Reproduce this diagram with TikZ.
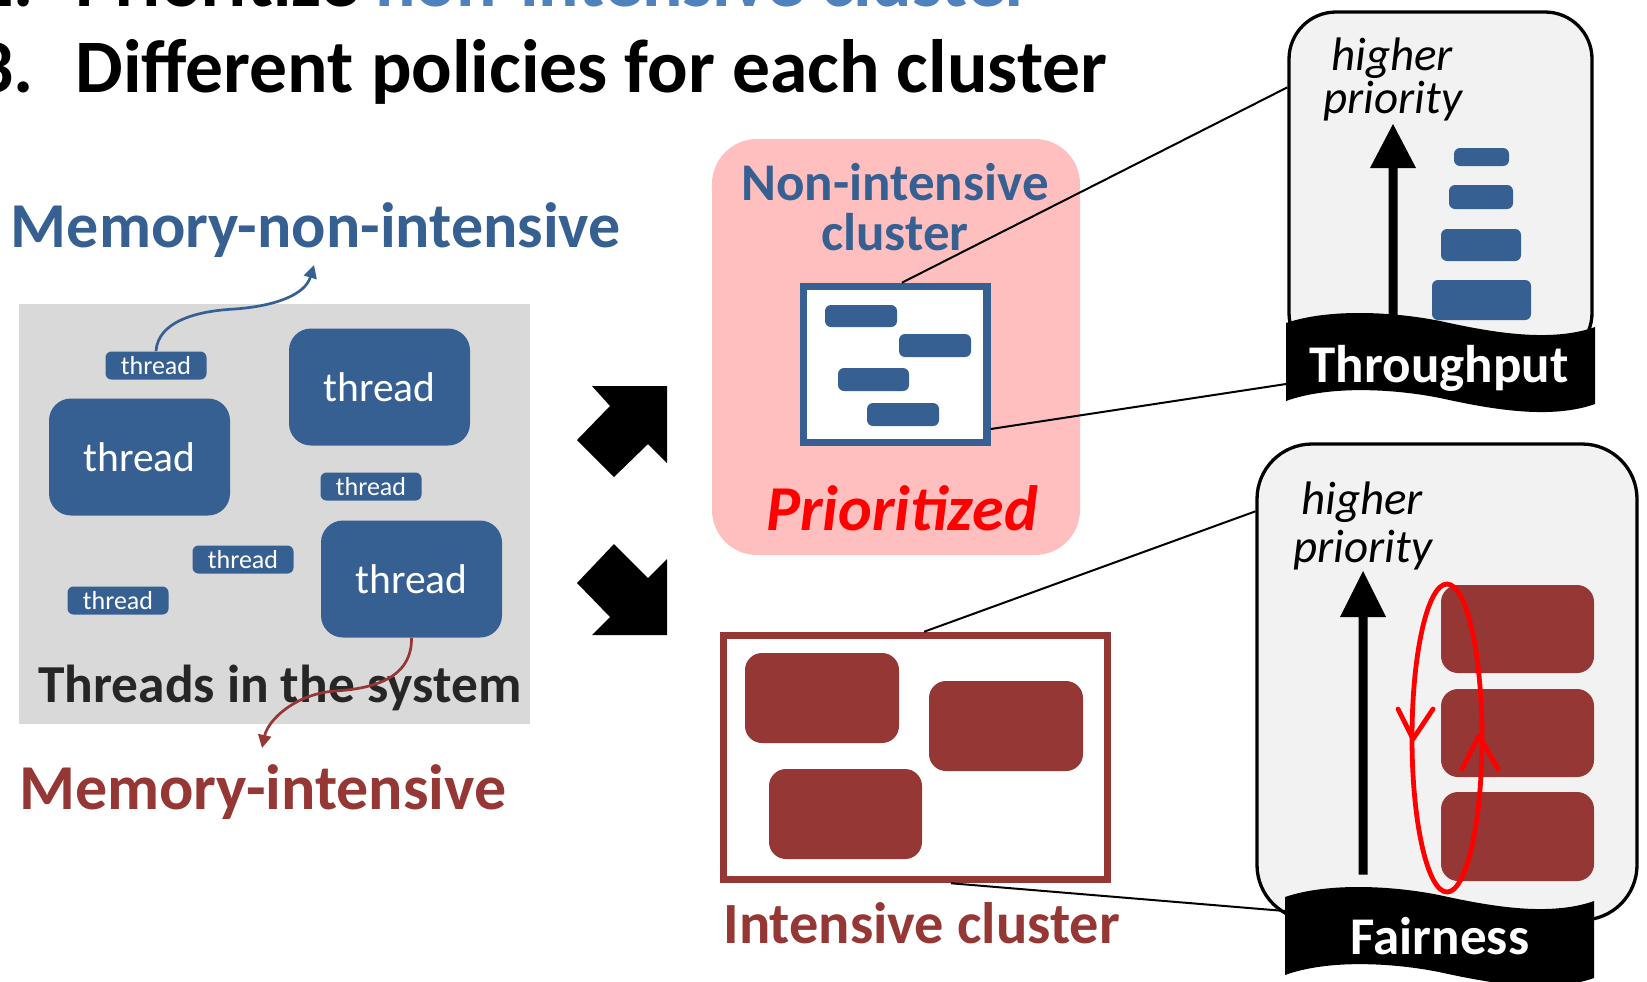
\documentclass[tikz,border=0pt]{standalone}
\usepackage{fontspec}
\setmainfont{Carlito}
\usetikzlibrary{arrows.meta,calc}
\definecolor{tblue}{RGB}{55,96,146}
\definecolor{lblue}{RGB}{79,129,189}
\definecolor{brick}{RGB}{149,55,53}
\definecolor{pinkbg}{RGB}{255,191,191}
\definecolor{graybg}{RGB}{217,217,217}
\definecolor{panelbg}{RGB}{242,242,242}
\definecolor{dgray}{RGB}{38,38,38}
\newcommand{\fsz}[1]{\fontsize{#1}{#1}\selectfont}
\begin{document}
\begin{tikzpicture}[x=0.5pt,y=-0.5pt,
  smallthread/.style={fill=tblue, rounded corners=3pt, minimum width=50.5pt, minimum height=14pt, inner sep=0pt, text=white, font=\fsz{13}},
  bigthread/.style={fill=tblue, rounded corners=11pt, minimum width=90.5pt, minimum height=58.5pt, inner sep=0pt, text=white, font=\fsz{20.8}},
  txt/.style={inner sep=0pt, anchor=base},
  txtw/.style={inner sep=0pt, anchor=base west},
  conn/.style={black, line width=1pt},
  panel/.style={draw=black, line width=1.65pt, fill=panelbg, inner sep=0pt},
  bluebar/.style={fill=tblue, rounded corners=3pt},
  redbar/.style={fill=brick, rounded corners=8.5pt},
  blockarrow/.style={fill=black},
  wavebanner/.pic={\fill[black] (0,0) .. controls (44,-15) and (109,-11) .. (154,-2) .. controls (204,9) and (264,20) .. (309,4) -- (309,81) .. controls (264,97) and (204,86) .. (154,75) .. controls (109,66) and (44,62) .. (0,78) -- cycle;}
]
\useasboundingbox (0,0) rectangle (1647,981);

% ---------- title lines ----------
\node[txtw] (title1) at (75,6) {\fsz{37.8}\bfseries\llap{2.\hspace{0.55em}}Prioritize \textcolor{lblue}{non-intensive cluster}};
\node[txtw] (title2) at (75,92) {\fsz{37.8}\bfseries\llap{3.\hspace{0.55em}}Different policies for each cluster};

% ---------- left: threads in the system ----------
\node[fill=graybg, minimum width=255.5pt, minimum height=210pt, inner sep=0pt] (sysbg) at (274.5,514) {};
\node[txtw, text=tblue, font=\fsz{32}\bfseries] (memnon) at (10.5,247) {Memory-non-intensive};
\node[txtw, text=brick, font=\fsz{32}\bfseries] (memint) at (19,809) {Memory-intensive};

\node[bigthread] (bt1) at (379.5,387) {thread};
\node[bigthread] (bt2) at (139.5,457) {thread};
\node[bigthread] (bt3) at (411.5,579) {thread};
\node[smallthread] (st1) at (156,365.5) {thread};
\node[smallthread] (st2) at (371,486.5) {thread};
\node[smallthread] (st3) at (243,559.5) {thread};
\node[smallthread] (st4) at (118,600.5) {thread};

\node[txtw, text=dgray, font=\fsz{26.7}\bfseries] (systxt) at (38,702) {Threads in the system};

\coordinate (memnontip) at (314,265);
\coordinate (meminttip) at (262,748);
\draw[tblue, line width=1.35pt, -{Triangle[length=6.5pt,width=6.5pt]}]
  (st1.north) .. controls (158,322) and (195,311) .. (235,309) .. controls (275,306) and (305,295) .. (memnontip);
\draw[brick, line width=1.35pt, -{Triangle[length=6.5pt,width=6.5pt]}]
  (bt3.south) .. controls (412,672) and (385,688) .. (335,691) .. controls (295,694) and (268,720) .. (meminttip);

% ---------- block arrows ----------
\fill[blockarrow] (592,386) -- (667,386) -- (667,463) -- (648,444) -- (614,477) -- (577,440) -- (610,406) -- cycle;
\fill[blockarrow] (614,544) -- (648,578) -- (667,559) -- (667,635) -- (592,635) -- (610,617) -- (577,583) -- cycle;

% ---------- non-intensive cluster ----------
\node[fill=pinkbg, rounded corners=22.5pt, minimum width=184pt, minimum height=208pt, inner sep=0pt] (nibg) at (896,347) {};
\node[txt, text=tblue, font=\fsz{26.5}\bfseries] (nic1) at (895,200) {Non-intensive};
\node[txt, text=tblue, font=\fsz{26.5}\bfseries] (nic2) at (895,250) {cluster};
\node[draw=tblue, line width=3.65pt, fill=white, minimum width=91.7pt, minimum height=78pt, inner sep=0pt] (nibox) at (895.35,364.35) {};
\fill[bluebar] (825,305) rectangle (897,327);
\fill[bluebar] (899,334) rectangle (971,357);
\fill[bluebar] (838,368) rectangle (909,391);
\fill[bluebar] (867,403) rectangle (939,426);
\node[txt, text=red, font=\fsz{32}\bfseries\itshape] (prio) at (902,530) {Prioritized};

% ---------- intensive cluster ----------
\node[draw=brick, line width=3.75pt, fill=white, minimum width=192pt, minimum height=122pt, inner sep=0pt] (ibox) at (915.5,757.5) {};
\fill[redbar] (745,653) rectangle (899,743);
\fill[redbar] (929,681) rectangle (1083,771);
\fill[redbar] (769,769) rectangle (922,859);
\node[txtw, text=brick, font=\fsz{29.2}\bfseries] (ictxt) at (723,943) {Intensive cluster};

% ---------- throughput panel ----------
\node[panel, rounded corners=23.5pt, minimum width=151.5pt, minimum height=174pt] (tpanel) at (1440.5,186) {};
\node[txt, font=\fsz{23.5}\itshape] (thigher) at (1392,70) {higher};
\node[txt, font=\fsz{23.5}\itshape] (tprio) at (1393,113) {priority};
\fill[black] (1388.5,317) -- (1388.5,168) -- (1370,168) -- (1393,124) -- (1416,168) -- (1397.5,168) -- (1397.5,317) -- cycle;
\fill[bluebar] (1454,148) rectangle (1509,166);
\fill[bluebar] (1449,185) rectangle (1513,209);
\fill[bluebar] (1441,229) rectangle (1521,261);
\fill[bluebar] (1432,280) rectangle (1531,320);
\pic at (1286,323) {wavebanner};
\coordinate (tban) at (1286,384);
\node[txt, text=white, font=\fsz{26.5}\bfseries] (thru) at (1439,382) {Throughput};

% ---------- fairness panel ----------
\node[panel, rounded corners=27.5pt, minimum width=190pt, minimum height=238pt] (fpanel) at (1447,682) {};
\node[txt, font=\fsz{23.5}\itshape] (fhigher) at (1362,514) {higher};
\node[txt, font=\fsz{23.5}\itshape] (fprio) at (1363,562) {priority};
\fill[black] (1358.5,874.5) -- (1358.5,617) -- (1340,617) -- (1363,571) -- (1386,617) -- (1367.5,617) -- (1367.5,874.5) -- cycle;
\fill[redbar] (1441,585) rectangle (1594,673);
\fill[redbar] (1441,689) rectangle (1594,777);
\fill[redbar] (1441,792) rectangle (1594,881);
\draw[red, line width=2.4pt] (1447,738) ellipse [x radius=17.5pt, y radius=77pt];
\draw[red, line width=2.4pt, line cap=round, line join=round] (1398,709) -- (1413,739) -- (1433,709);
\draw[red, line width=2.4pt, line cap=round, line join=round] (1462,769) -- (1479,736) -- (1498,769);
\pic at (1285,897) {wavebanner};
\coordinate (fban) at (1285,911);
\node[txt, text=white, font=\fsz{26.5}\bfseries] (fair) at (1440,954) {Fairness};

% ---------- connectors ----------
\draw[conn] ($(nibox.north)+(6.5,0)$) -- ($(tpanel.north west)+(0,77)$);
\draw[conn] ($(nibox.south east)+(0,-17)$) -- (tban);
\draw[conn] ($(ibox.north)+(8.5,0)$) -- ($(fpanel.north west)+(0,69)$);
\draw[conn] ($(ibox.south)+(35.5,0)$) -- (fban);
\end{tikzpicture}
\end{document}
